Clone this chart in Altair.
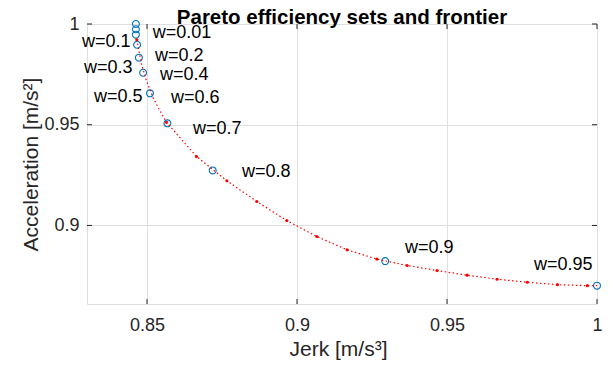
import altair as alt
import pandas as pd

# ---------------- data ----------------
# Pareto efficiency sets (blue circles)
set_jerk = [0.8463, 0.8463, 0.8463, 0.8467, 0.8473, 0.8487, 0.8510, 0.8568, 0.8719, 0.9294, 1.0000]
set_acc = [1.0000, 0.9974, 0.9947, 0.9897, 0.9833, 0.9758, 0.9656, 0.9507, 0.9273, 0.8823, 0.8701]

# Pareto frontier markers (red dots)
front_jerk = [0.8466, 0.8565, 0.8665, 0.8766, 0.8866, 0.8966, 0.9066, 0.9167, 0.9266,
              0.9367, 0.9467, 0.9567, 0.9667, 0.9768, 0.9868, 0.9968]
front_acc = [0.9922, 0.9512, 0.9342, 0.9222, 0.9119, 0.9024, 0.8945, 0.8879, 0.8833,
             0.8801, 0.8776, 0.8753, 0.8733, 0.8718, 0.8706, 0.8701]

# Frontier curve (red dotted line)
line_jerk = [0.8466, 0.8482, 0.8499, 0.8521, 0.8538, 0.8565, 0.8665, 0.8766, 0.8866, 0.8966,
             0.9066, 0.9167, 0.9266, 0.9367, 0.9467, 0.9567, 0.9667, 0.9768, 0.9868, 0.9968, 1.0000]
line_acc = [0.9922, 0.9798, 0.9715, 0.9632, 0.9583, 0.9512, 0.9342, 0.9222, 0.9119, 0.9024,
            0.8945, 0.8879, 0.8833, 0.8801, 0.8776, 0.8753, 0.8733, 0.8718, 0.8706, 0.8701, 0.8701]

# Weight labels and their anchor positions (data units)
label_text = ["w=0.01", "w=0.1", "w=0.2", "w=0.3", "w=0.4", "w=0.5",
              "w=0.6", "w=0.7", "w=0.8", "w=0.9", "w=0.95"]
label_jerk = [0.8519, 0.8283, 0.8527, 0.8290, 0.8543, 0.8323, 0.8580, 0.8653, 0.8817, 0.9360, 0.9790]
label_acc = [0.9957, 0.9912, 0.9843, 0.9783, 0.9748, 0.9639, 0.9634, 0.9480, 0.9266, 0.8889, 0.8804]

x_ticks = [0.85, 0.9, 0.95, 1.0]
y_ticks = [0.9, 0.95, 1.0]
x_domain = [0.83, 1.0]
y_domain = [0.861, 1.0]

W, H = 510, 280
FONT = "Liberation Sans"
AX = "#262626"

sets_df = pd.DataFrame({"jerk": set_jerk, "acc": set_acc})
front_df = pd.DataFrame({"jerk": front_jerk, "acc": front_acc})
line_df = pd.DataFrame({"jerk": line_jerk, "acc": line_acc, "order": list(range(len(line_jerk)))})
lab_df = pd.DataFrame({"jerk": label_jerk, "acc": label_acc, "text": label_text})
xt_df = pd.DataFrame({"jerk": x_ticks})
yt_df = pd.DataFrame({"acc": y_ticks})

xs = alt.Scale(domain=x_domain, nice=False, zero=False)
ys = alt.Scale(domain=y_domain, nice=False, zero=False)

x_axis = alt.Axis(
    values=x_ticks, format="~g", title="Jerk [m/s³]", grid=True, gridColor="#dfdfdf",
    domain=False, ticks=False, tickSize=0, labelPadding=12, labelFontSize=18, labelFont=FONT,
    labelColor=AX, titleFont=FONT, titleFontSize=21, titleFontWeight="normal", titleColor=AX,
    titleX=W / 2 - 4, titleY=51, titleBaseline="alphabetic", titleAlign="center",
    labelFlush=False,
)
y_axis = alt.Axis(
    values=y_ticks, format="~g", title="Acceleration [m/s²]", grid=True, gridColor="#dfdfdf",
    domain=False, ticks=False, tickSize=0, labelPadding=8, labelFontSize=18, labelFont=FONT,
    labelColor=AX, titleFont=FONT, titleFontSize=21, titleFontWeight="normal", titleColor=AX,
    titleX=-50, titleBaseline="alphabetic", titleAlign="center", titleAngle=270,
    labelFlush=False,
)

X = alt.X("jerk:Q", scale=xs, title="Jerk [m/s³]")
Y = alt.Y("acc:Q", scale=ys, title="Acceleration [m/s²]")

circles = alt.Chart(sets_df).mark_point(
    shape="circle", filled=False, color="#0072BD", size=48, strokeWidth=1.1, opacity=1
).encode(
    x=alt.X("jerk:Q", scale=xs, axis=x_axis, title="Jerk [m/s³]"),
    y=alt.Y("acc:Q", scale=ys, axis=y_axis, title="Acceleration [m/s²]"),
)

line = alt.Chart(line_df).mark_line(
    color="#FF0000", strokeWidth=1.2, strokeDash=[1.5, 2.5]
).encode(x=X, y=Y, order="order:Q")

dots = alt.Chart(front_df).mark_point(
    shape="circle", filled=True, color="#FF0000", size=10, opacity=1
).encode(x=X, y=Y)

labels = alt.Chart(lab_df).mark_text(
    align="left", baseline="middle", font=FONT, fontSize=18, color="#000000"
).encode(x=X, y=Y, text="text:N")

TL = 5
tick_bottom = alt.Chart(xt_df).mark_rule(color=AX, strokeWidth=1).encode(
    x=X, y=alt.value(H), y2=alt.value(H - TL))
tick_top = alt.Chart(xt_df).mark_rule(color=AX, strokeWidth=1).encode(
    x=X, y=alt.value(0), y2=alt.value(TL))
tick_left = alt.Chart(yt_df).mark_rule(color=AX, strokeWidth=1).encode(
    y=Y, x=alt.value(0), x2=alt.value(TL))
tick_right = alt.Chart(yt_df).mark_rule(color=AX, strokeWidth=1).encode(
    y=Y, x=alt.value(W), x2=alt.value(W - TL))

chart = alt.layer(
    circles, tick_bottom, tick_top, tick_left, tick_right, line, dots, labels
).properties(
    width=W, height=H,
    autosize=alt.AutoSizeParams(type="none"),
    padding={"left": 79, "top": 16, "right": 8, "bottom": 60},
    title=alt.TitleParams(
        "Pareto efficiency sets and frontier", font=FONT, fontSize=20.5, fontWeight="bold",
        color="#000000", anchor="middle", frame="group", offset=0, baseline="bottom", dy=33,
    ),
).configure_view(
    stroke=AX, strokeWidth=1
).configure(background="white")

chart.save("out.html", embed_options={"renderer": "svg", "actions": False})
